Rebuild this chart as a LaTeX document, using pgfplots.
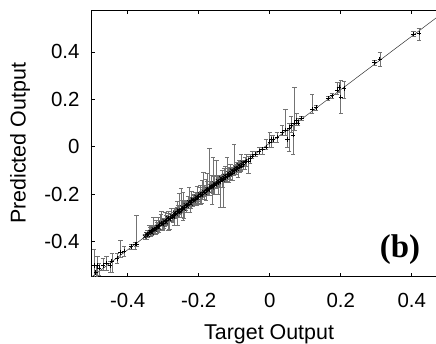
\documentclass[border=0pt]{standalone}
\usepackage{pgfplots}
\pgfplotsset{compat=1.18}
\usepackage{fontspec}
\setmainfont{Liberation Sans}
\newfontfamily\serifbold{Liberation Serif}
\pgfplotstableread{
x y ep em
-0.495 -0.50 0.07 0.05
-0.49 -0.53 0.03 0.02
-0.485 -0.50 0.04 0.05
-0.48 -0.51 0.02 0.03
-0.47 -0.50 0.03 0.02
-0.46 -0.49 0.03 0.03
-0.45 -0.50 0.02 0.03
-0.445 -0.48 0.03 0.05
-0.43 -0.47 0.02 0.02
-0.42 -0.445 0.05 0.02
-0.41 -0.44 0.02 0.02
-0.39 -0.42 0.01 0.01
-0.375 -0.41 0.12 0.01
-0.38 -0.41 0.01 0.02
-0.345 -0.37 0.02 0.01
-0.34 -0.36 0.03 0.01
-0.335 -0.355 0.02 0.02
-0.33 -0.35 0.02 0.01
-0.325 -0.345 0.01 0.02
-0.32 -0.34 0.03 0.01
-0.315 -0.335 0.04 0.02
-0.31 -0.33 0.02 0.02
-0.305 -0.32 0.05 0.01
-0.30 -0.32 0.02 0.03
-0.295 -0.315 0.04 0.02
-0.29 -0.31 0.02 0.02
-0.285 -0.30 0.03 0.05
-0.28 -0.30 0.02 0.01
-0.275 -0.295 0.01 0.02
-0.27 -0.29 0.03 0.04
-0.265 -0.28 0.02 0.02
-0.26 -0.27 0.04 0.06
-0.255 -0.275 0.08 0.02
-0.25 -0.265 0.09 0.03
-0.245 -0.26 0.07 0.05
-0.24 -0.255 0.03 0.02
-0.235 -0.245 0.02 0.03
-0.23 -0.24 0.03 0.02
-0.225 -0.235 0.02 0.04
-0.22 -0.225 0.04 0.02
-0.215 -0.225 0.02 0.02
-0.21 -0.22 0.03 0.02
-0.205 -0.215 0.05 0.03
-0.20 -0.21 0.02 0.02
-0.195 -0.20 0.04 0.04
-0.19 -0.20 0.06 0.02
-0.185 -0.19 0.03 0.03
-0.18 -0.185 0.05 0.04
-0.175 -0.18 0.07 0.02
-0.17 -0.175 0.17 0.03
-0.165 -0.17 0.05 0.02
-0.16 -0.165 0.12 0.03
-0.155 -0.16 0.04 0.04
-0.15 -0.155 0.10 0.02
-0.145 -0.15 0.03 0.05
-0.14 -0.145 0.02 0.11
-0.135 -0.14 0.04 0.03
-0.13 -0.135 0.02 0.12
-0.125 -0.13 0.05 0.02
-0.12 -0.125 0.08 0.02
-0.115 -0.12 0.03 0.03
-0.11 -0.115 0.04 0.02
-0.105 -0.11 0.02 0.03
-0.10 -0.10 0.11 0.02
-0.095 -0.095 0.03 0.02
-0.09 -0.09 0.02 0.04
-0.085 -0.085 0.03 0.02
-0.08 -0.08 0.05 0.02
-0.075 -0.075 0.02 0.02
-0.07 -0.065 0.02 0.03
-0.065 -0.06 0.03 0.02
-0.06 -0.06 0.02 0.05
-0.055 -0.05 0.02 0.02
-0.05 -0.04 0.02 0.01
-0.04 -0.03 0.01 0.01
-0.03 -0.02 0.02 0.01
-0.02 -0.01 0.01 0.02
-0.01 0.00 0.03 0.01
0.00 0.02 0.04 0.02
0.005 0.03 0.02 0.03
0.01 0.03 0.02 0.01
0.02 0.04 0.02 0.02
0.035 0.06 0.03 0.01
0.045 0.07 0.09 0.02
0.05 0.03 0.04 0.03
0.055 0.08 0.02 0.10
0.06 0.09 0.04 0.03
0.065 0.05 0.05 0.08
0.07 0.10 0.15 0.03
0.075 0.11 0.03 0.02
0.08 0.10 0.02 0.01
0.09 0.12 0.01 0.01
0.12 0.16 0.06 0.02
0.13 0.165 0.01 0.01
0.165 0.205 0.01 0.01
0.175 0.215 0.01 0.01
0.19 0.24 0.03 0.02
0.195 0.25 0.02 0.02
0.20 0.21 0.07 0.07
0.21 0.245 0.03 0.04
0.295 0.355 0.01 0.01
0.31 0.37 0.03 0.03
0.405 0.475 0.01 0.01
0.42 0.48 0.02 0.03
}\datatable
\pgfplotstableread{
x y ep em
-0.352 -0.378 0.01 0.01
-0.347 -0.368 0.01 0.02
-0.342 -0.372 0.02 0.01
-0.337 -0.358 0.02 0.02
-0.332 -0.362 0.01 0.01
-0.327 -0.347 0.05 0.01
-0.322 -0.350 0.02 0.02
-0.317 -0.336 0.02 0.03
-0.312 -0.340 0.01 0.02
-0.307 -0.322 0.04 0.01
-0.302 -0.328 0.02 0.02
-0.297 -0.312 0.01 0.03
-0.292 -0.318 0.03 0.01
-0.287 -0.300 0.02 0.02
-0.282 -0.306 0.01 0.04
-0.277 -0.290 0.03 0.01
-0.272 -0.296 0.02 0.02
-0.267 -0.278 0.01 0.02
-0.262 -0.284 0.03 0.01
-0.257 -0.266 0.02 0.02
-0.252 -0.273 0.01 0.01
-0.247 -0.255 0.03 0.02
-0.242 -0.262 0.02 0.04
-0.237 -0.245 0.01 0.02
-0.232 -0.250 0.02 0.01
-0.227 -0.232 0.06 0.02
-0.222 -0.240 0.02 0.02
-0.217 -0.221 0.01 0.03
-0.212 -0.228 0.03 0.01
-0.207 -0.210 0.02 0.02
-0.202 -0.217 0.01 0.02
-0.197 -0.199 0.03 0.01
-0.192 -0.206 0.02 0.03
-0.187 -0.188 0.08 0.02
-0.182 -0.195 0.02 0.01
-0.177 -0.176 0.03 0.02
-0.172 -0.184 0.01 0.02
-0.167 -0.165 0.02 0.01
-0.162 -0.172 0.02 0.07
-0.157 -0.154 0.03 0.02
-0.152 -0.161 0.01 0.01
-0.147 -0.143 0.02 0.02
-0.142 -0.150 0.03 0.02
-0.137 -0.132 0.01 0.01
-0.132 -0.139 0.02 0.03
-0.127 -0.121 0.03 0.02
-0.122 -0.127 0.01 0.01
-0.117 -0.110 0.02 0.02
-0.112 -0.116 0.03 0.01
-0.107 -0.099 0.01 0.02
-0.102 -0.104 0.02 0.01
-0.097 -0.088 0.01 0.02
-0.092 -0.093 0.02 0.01
-0.087 -0.077 0.01 0.01
-0.082 -0.081 0.02 0.02
-0.077 -0.066 0.01 0.01
}\densetable
\begin{document}
\begin{tikzpicture}
\useasboundingbox (-91bp,-67.3bp) rectangle (345bp,276.7bp);
\clip (-91bp,-67.3bp) rectangle (345bp,276.7bp);
\begin{axis}[
  at={(0,0)}, anchor=south west,
  scale only axis,
  width=356.2bp, height=266.7bp,
  xmin=-0.5034, xmax=0.5, ymin=-0.547, ymax=0.576,
  xtick={-0.4,-0.2,0,0.2,0.4},
  ytick={-0.4,-0.2,0,0.2,0.4},
  xticklabels={-0.4,-0.2,0,0.2,0.4},
  yticklabels={-0.4,-0.2,0,0.2,0.4},
  tick align=inside,
  major tick length=4bp,
  tick style={black, line width=0.6pt},
  axis line style={black, line width=0.9pt},
  tick label style={font=\fontsize{20.5}{24}\selectfont},
  xticklabel style={yshift=-13bp},
  yticklabel style={xshift=-8bp},
  label style={font=\fontsize{21.5}{25}\selectfont},
  xlabel={Target Output},
  ylabel={Predicted Output},
  xlabel style={at={(axis description cs:0.5,-0.215)}, anchor=center},
  ylabel style={at={(axis description cs:-0.1993,0.5)}, anchor=center},
  clip=true,
]
\addplot[black!80, line width=0.5pt, forget plot] coordinates {(-0.5034,-0.55) (0.6,0.69)};
\addplot[only marks, mark=+, mark size=2.2pt, black, mark options={line width=0.55pt},
  error bars/.cd, y dir=both, y explicit,
  error bar style={black!55, line width=0.45pt},
  error mark options={rotate=90, mark size=2.2pt, black!55, line width=0.45pt}]
  table[x=x, y=y, y error plus=ep, y error minus=em] {\datatable};
\addplot[only marks, mark=x, mark size=2.6pt, black, mark options={line width=0.7pt},
  error bars/.cd, y dir=both, y explicit,
  error bar style={black!55, line width=0.45pt},
  error mark options={rotate=90, mark size=2.2pt, black!55, line width=0.45pt}]
  table[x=x, y=y, y error plus=ep, y error minus=em] {\densetable};
\node[font=\serifbold\bfseries\fontsize{33}{36}\selectfont] at (axis cs:0.367,-0.432) {(b)};
\end{axis}
\end{tikzpicture}
\end{document}
